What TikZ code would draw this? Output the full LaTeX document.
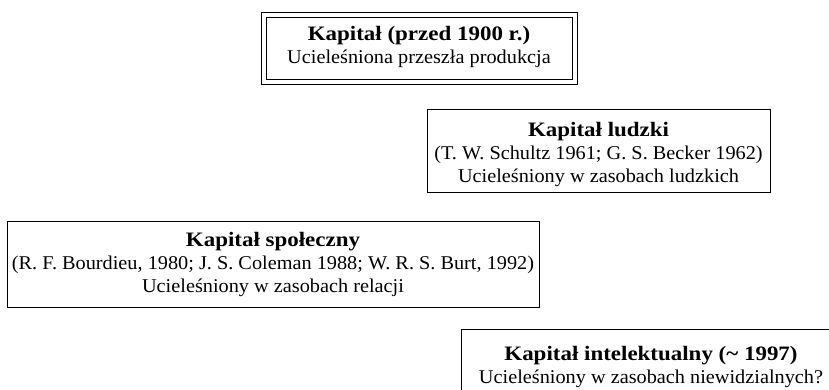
\documentclass[tikz,border=0pt]{standalone}
\usepackage{fontspec}
\setmainfont{Liberation Serif}[FakeStretch=1.04]
\newfontfamily\headfont{Liberation Serif}[FakeStretch=1.12]
\newcommand\capheading[1]{{\headfont\bfseries\fontsize{20.5}{23}\selectfont #1}}
\begin{document}
\begin{tikzpicture}[x=1pt,y=-1pt,
  framebox/.style={draw=black, line width=1.1pt, inner sep=0pt, anchor=north west},
  label/.style={align=center, font=\fontsize{19.5}{23}\selectfont, inner sep=0pt}]
  \useasboundingbox (0,0) rectangle (829,390);
  \clip (0,0) rectangle (829,390);

  % Kapitał (przed 1900 r.) -- double frame
  \node[framebox, double, double distance=3.6pt, line width=1pt,
        minimum width=311pt, minimum height=67pt] (b1) at (263.5,14.5) {};
  \node[label] (t1) at (419,46.5)
    {\capheading{Kapitał (przed 1900 r.)}\\Ucieleśniona przeszła produkcja};

  % Kapitał ludzki
  \node[framebox, minimum width=343pt, minimum height=83pt] (b2) at (427,109) {};
  \node[label] (t2) at (598.5,154)
    {\capheading{Kapitał ludzki}\\(T. W. Schultz 1961; G. S. Becker 1962)\\Ucieleśniony w zasobach ludzkich};

  % Kapitał społeczny
  \node[framebox, minimum width=532pt, minimum height=86pt] (b3) at (7,221) {};
  \node[label] (t3) at (273,264)
    {\capheading{Kapitał społeczny}\\(R. F. Bourdieu, 1980; J. S. Coleman 1988; W. R. S. Burt, 1992)\\Ucieleśniony w zasobach relacji};

  % Kapitał intelektualny -- frame runs past the page edge
  \node[framebox, minimum width=400pt, minimum height=90pt] (b4) at (461,329) {};
  \node[label] (t4) at (651,366.5)
    {\capheading{Kapitał intelektualny (\char"007E{} 1997)}\\Ucieleśniony w zasobach niewidzialnych?};
\end{tikzpicture}
\end{document}
